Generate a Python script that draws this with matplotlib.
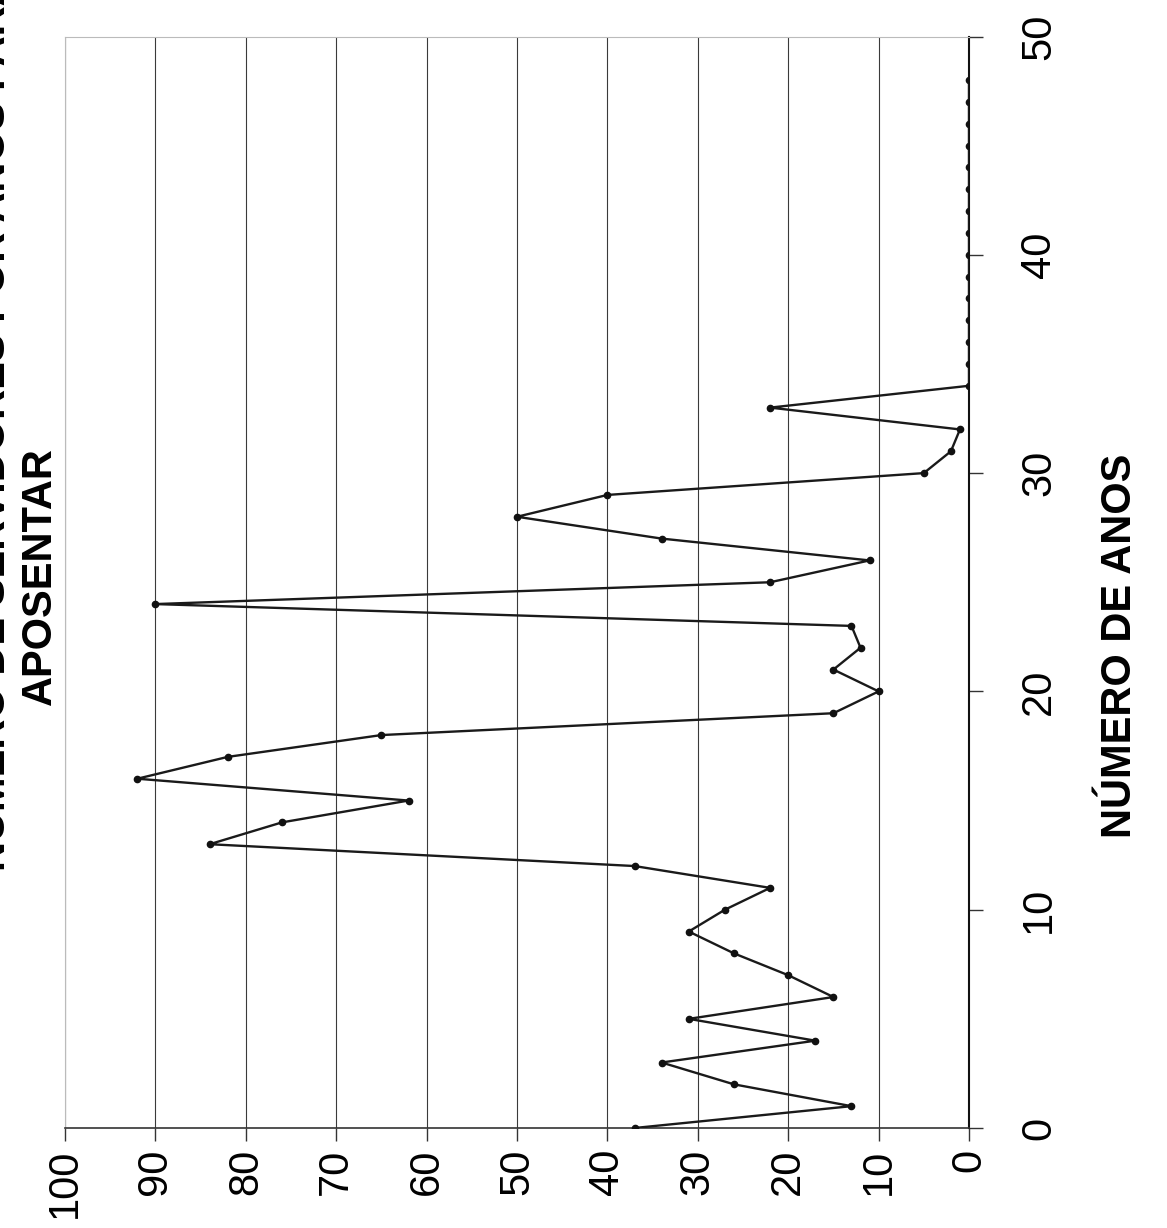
import numpy as np
import matplotlib
matplotlib.use("Agg")
import matplotlib.pyplot as plt

plt.rcParams['font.family'] = ['Liberation Sans', 'DejaVu Sans']

# dados (gira 90 graus: anos na vertical, valores na horizontal)
anos = list(range(0, 49))
valores = [37, 13, 26, 34, 17, 31, 15, 20, 26, 31,
           27, 22, 37, 84, 76, 62, 92, 82, 65, 15,
           10, 15, 12, 13, 90, 22, 11, 34, 50, 40,
           5, 2, 1, 22, 0, 0, 0, 0, 0, 0,
           0, 0, 0, 0, 0, 0, 0, 0, 0]
ticks_valor = list(range(0, 101, 10))
ticks_anos = list(range(0, 51, 10))

W, H = 1167, 1228
fig = plt.figure(figsize=(W / 100, H / 100), dpi=100)
fig.patch.set_facecolor('white')

ax = fig.add_axes([65 / W, 100 / H, 904 / W, 1091.5 / H])
ax.plot(valores, anos, color='#1a1a1a', lw=1.7, marker='o', ms=4.5,
        mfc='#111111', mec='#111111', zorder=3)

ax.set_xlim(100, 0)
ax.set_ylim(0, 50)

# eixo dos valores (embaixo)
ax.set_xticks(ticks_valor)
ax.set_xticklabels([str(v) for v in ticks_valor], rotation=90, fontsize=30)
ax.tick_params(axis='x', direction='out', length=9, width=1, pad=6,
               color='#333333')

# eixo dos anos (direita)
ax.yaxis.tick_right()
ax.set_yticks(ticks_anos)
ax.set_yticklabels([str(v) for v in ticks_anos], rotation=90, fontsize=30,
                   va='center')
ax.tick_params(axis='y', direction='out', length=10, width=1, pad=26,
               color='#333333')

ax.grid(axis='x', color='#3a3a3a', lw=0.8)
ax.grid(axis='y', visible=False)

ax.spines['right'].set_color('#111111')
ax.spines['right'].set_linewidth(1.5)
ax.spines['bottom'].set_color('#333333')
ax.spines['bottom'].set_linewidth(1.2)
ax.spines['top'].set_color('#bbbbbb')
ax.spines['left'].set_color('#bbbbbb')

fig.text(1120 / W, 1 - 646 / H, 'NÚMERO DE ANOS', rotation=90,
         ha='center', va='center', fontsize=30, fontweight='bold')
fig.text(40 / W, 1 - 576 / H, 'APOSENTAR', rotation=90,
         ha='center', va='center', fontsize=30, fontweight='bold')
fig.text(-6 / W, 1.02, 'NÚMERO DE SERVIDORES POR ANOS PARA', rotation=90,
         ha='center', va='top', fontsize=30, fontweight='bold')

fig.savefig('out.png', dpi=100)
